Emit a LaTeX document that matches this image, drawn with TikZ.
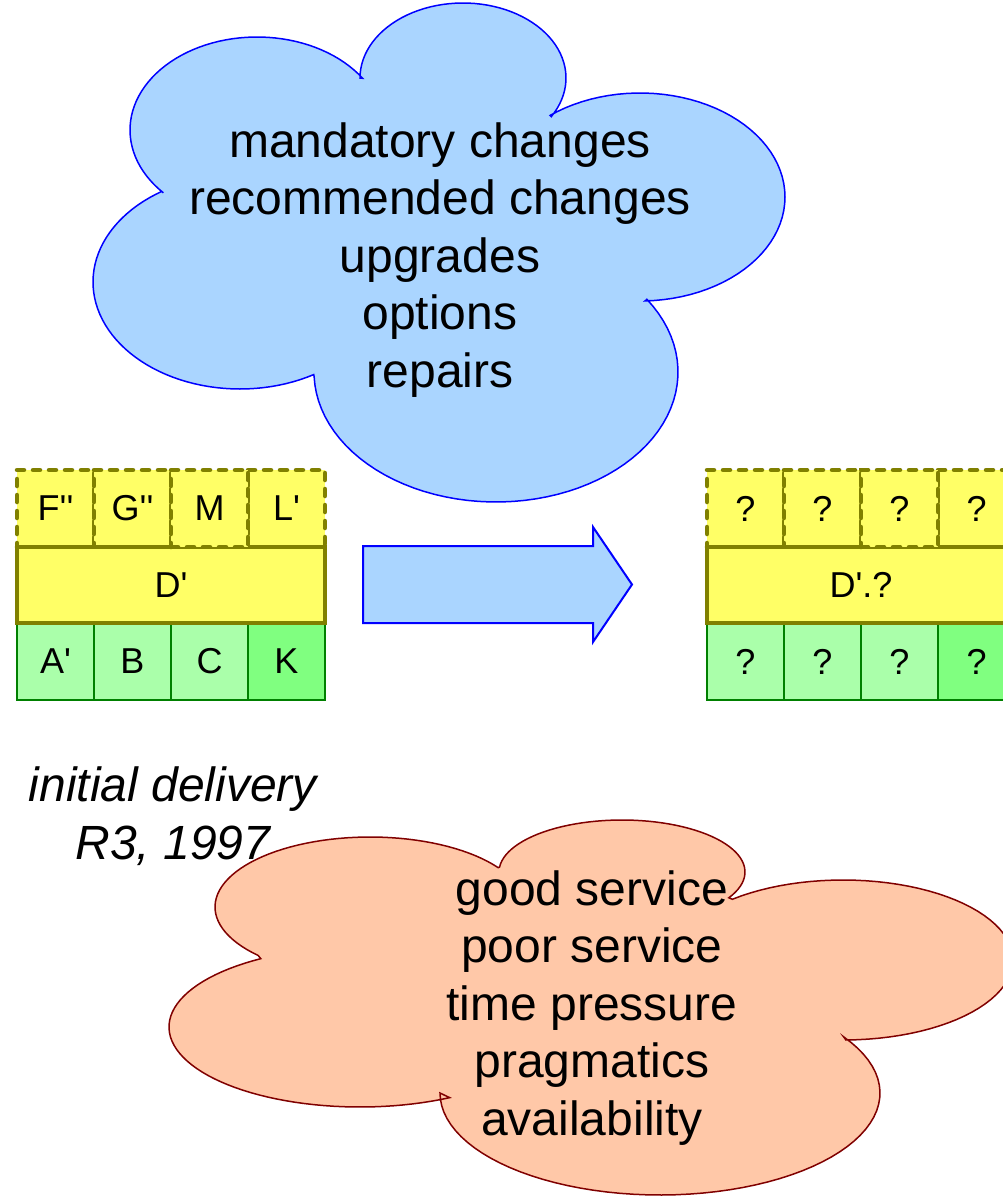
\documentclass[tikz,border=0pt]{standalone}
\usepackage{fontspec}
\newfontfamily\diagfont{Liberation Sans}
\newcommand\boxtext{\diagfont\fontsize{36}{43}\selectfont}
\newcommand\cloudtext{\diagfont\fontsize{48}{57.5}\selectfont}
\definecolor{cloudblue}{RGB}{170,213,255}
\definecolor{cloudpeach}{RGB}{255,200,168}
\definecolor{edgered}{RGB}{128,0,0}
\definecolor{addonyellow}{RGB}{255,255,102}
\definecolor{edgeolive}{RGB}{128,128,0}
\definecolor{modgreen}{RGB}{170,255,170}
\definecolor{kgreen}{RGB}{128,255,128}
\definecolor{edgegreen}{RGB}{0,128,0}

\begin{document}
\begin{tikzpicture}[x=1pt, y=-1pt,
    addon/.style={draw=edgeolive, fill=addonyellow, line width=4.5pt, dash pattern=on 7pt off 9pt, line cap=round, minimum width=77pt, minimum height=77pt, inner sep=0pt, font=\boxtext},
    kernel/.style={draw=edgeolive, fill=addonyellow, line width=4.5pt, minimum width=308pt, minimum height=76pt, inner sep=0pt, font=\boxtext},
    module/.style={draw=edgegreen, fill=modgreen, line width=2pt, minimum width=77pt, minimum height=77pt, inner sep=0pt, font=\boxtext},
    cloudlabel/.style={align=center, inner sep=0pt, font=\cloudtext},
    bump/.style={samples=60}]
        \useasboundingbox (0,0) rectangle (1003,1197);

        % clouds, one elliptic arc per bump
        \filldraw[draw=blue, fill=cloudblue, line width=1.5pt, line join=miter]
            plot[bump, domain=137.5:326.2] ({257+127*cos(\x)}, {130+93*sin(\x)})
         -- plot[bump, domain=180:391] ({463+103*cos(\x)}, {78+75*sin(\x)})
         -- plot[bump, domain=231.7:448] ({640+145*cos(\x)}, {197+104*sin(\x)})
         -- plot[bump, domain=-34:178] ({496+182*cos(\x)}, {372+130*sin(\x)})
         -- plot[bump, domain=59.9:237.8] ({240+147*cos(\x)}, {282+107*sin(\x)})
         -- cycle;
        \filldraw[draw=edgered, fill=cloudpeach, line width=1.5pt, line join=miter]
            plot[bump, domain=136.2:325.8] ({370+155*cos(\x)}, {907+70*sin(\x)})
         -- plot[bump, domain=185.5:389.7] ({622+123*cos(\x)}, {872+52*sin(\x)})
         -- plot[bump, domain=229.4:449] ({843+170*cos(\x)}, {960+80*sin(\x)})
         -- plot[bump, domain=-33.4:180] ({660+220*cos(\x)}, {1093+102*sin(\x)})
         -- plot[bump, domain=62:238.7] ({360+191*cos(\x)}, {1027+80*sin(\x)})
         -- cycle;

        \node[cloudlabel] (changes) at (440,260) {mandatory changes\\recommended changes\\upgrades\\options\\repairs};
        \node[cloudlabel] (service) at (592,1008) {good service\\poor service\\time pressure\\pragmatics\\availability};
        \node[cloudlabel, font=\cloudtext\itshape] (delivery) at (173,816) {initial delivery\\R3, 1997};

        % initial delivery
        \node[module] (Ap) at (55.5,661.5) {A'};
        \node[module] (B) at (132.5,661.5) {B};
        \node[module] (C) at (209.5,661.5) {C};
        \node[module, fill=kgreen] (K) at (286.5,661.5) {K};
        \node[addon] (Fpp) at (55.5,508.5) {F''};
        \node[addon] (Gpp) at (132.5,508.5) {G''};
        \node[addon] (Lp) at (286.5,508.5) {L'};
        \node[kernel] (Dp) at (171,585) {D'};
        \node[addon] (M) at (209.5,508.5) {M};

        % unknown release
        \node[module] (R1) at (745.5,661.5) {?};
        \node[module] (R2) at (822.5,661.5) {?};
        \node[module] (R3) at (899.5,661.5) {?};
        \node[module, fill=kgreen] (R4) at (976.5,661.5) {?};
        \node[addon] (Q1) at (745.5,508.5) {?};
        \node[addon] (Q2) at (822.5,508.5) {?};
        \node[addon] (Q4) at (976.5,508.5) {?};
        \node[kernel] (Dq) at (861,585) {D'.?};
        \node[addon] (Q3) at (899.5,508.5) {?};

        \filldraw[draw=blue, fill=cloudblue, line width=2pt] (363,546) -- (593,546) -- (593,527) -- (632,584.5) -- (593,642) -- (593,623) -- (363,623) -- cycle;
      \end{tikzpicture}
\end{document}
